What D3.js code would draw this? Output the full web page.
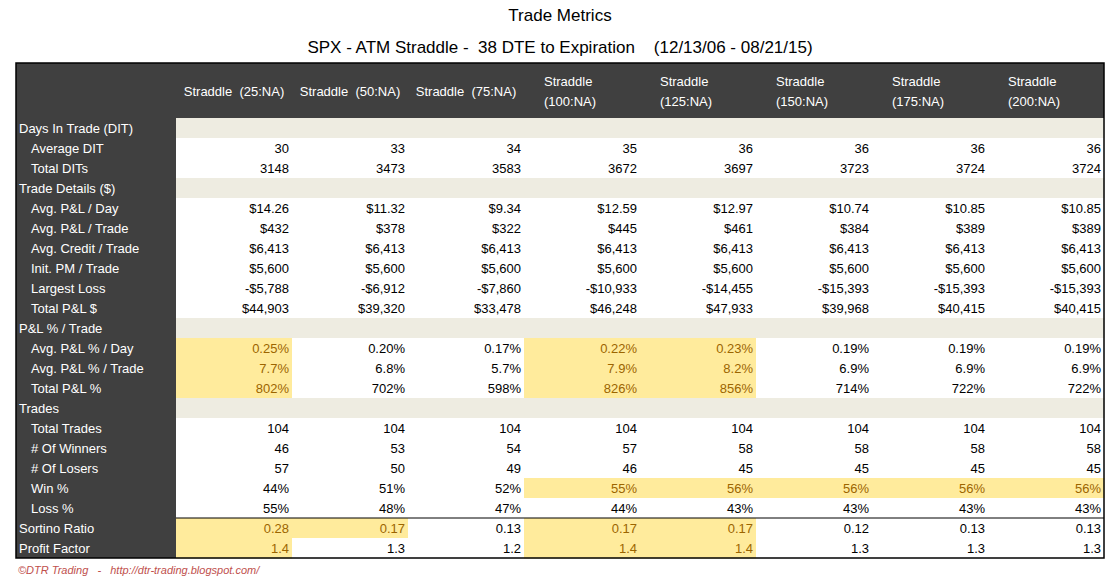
<!DOCTYPE html>
<html><head><meta charset="utf-8">
<script src="https://cdn.jsdelivr.net/npm/d3@7"></script>
<style>body{margin:0;background:#fff;font-family:"Liberation Sans",Arial,sans-serif}</style>
</head><body>
<div id="chart"></div>
<script>
// column headers (two lines when needed)
const columns = [["Straddle  (25:NA)"], ["Straddle  (50:NA)"], ["Straddle  (75:NA)"],
    ["Straddle", "(100:NA)"], ["Straddle", "(125:NA)"], ["Straddle", "(150:NA)"],
    ["Straddle", "(175:NA)"], ["Straddle", "(200:NA)"]];

// row labels; section rows have no values
const rowLabels = ["Days In Trade (DIT)", "Average DIT", "Total DITs", "Trade Details ($)",
    "Avg. P&L / Day", "Avg. P&L / Trade", "Avg.  Credit / Trade", "Init. PM / Trade",
    "Largest Loss", "Total P&L $", "P&L % / Trade", "Avg. P&L % / Day", "Avg. P&L % / Trade",
    "Total P&L %", "Trades", "Total Trades", "# Of Winners", "# Of Losers", "Win %", "Loss %",
    "Sortino Ratio", "Profit Factor"];
const sectionRows = ["Days In Trade (DIT)", "Trade Details ($)", "P&L % / Trade", "Trades"];
const topLevelRows = sectionRows.concat(["Sortino Ratio", "Profit Factor"]);

const values = {
    "Average DIT": ["30", "33", "34", "35", "36", "36", "36", "36"],
    "Total DITs": ["3148", "3473", "3583", "3672", "3697", "3723", "3724", "3724"],
    "Avg. P&L / Day": ["$14.26", "$11.32", "$9.34", "$12.59", "$12.97", "$10.74", "$10.85", "$10.85"],
    "Avg. P&L / Trade": ["$432", "$378", "$322", "$445", "$461", "$384", "$389", "$389"],
    "Avg.  Credit / Trade": ["$6,413", "$6,413", "$6,413", "$6,413", "$6,413", "$6,413", "$6,413", "$6,413"],
    "Init. PM / Trade": ["$5,600", "$5,600", "$5,600", "$5,600", "$5,600", "$5,600", "$5,600", "$5,600"],
    "Largest Loss": ["-$5,788", "-$6,912", "-$7,860", "-$10,933", "-$14,455", "-$15,393", "-$15,393", "-$15,393"],
    "Total P&L $": ["$44,903", "$39,320", "$33,478", "$46,248", "$47,933", "$39,968", "$40,415", "$40,415"],
    "Avg. P&L % / Day": ["0.25%", "0.20%", "0.17%", "0.22%", "0.23%", "0.19%", "0.19%", "0.19%"],
    "Avg. P&L % / Trade": ["7.7%", "6.8%", "5.7%", "7.9%", "8.2%", "6.9%", "6.9%", "6.9%"],
    "Total P&L %": ["802%", "702%", "598%", "826%", "856%", "714%", "722%", "722%"],
    "Total Trades": ["104", "104", "104", "104", "104", "104", "104", "104"],
    "# Of Winners": ["46", "53", "54", "57", "58", "58", "58", "58"],
    "# Of Losers": ["57", "50", "49", "46", "45", "45", "45", "45"],
    "Win %": ["44%", "51%", "52%", "55%", "56%", "56%", "56%", "56%"],
    "Loss %": ["55%", "48%", "47%", "44%", "43%", "43%", "43%", "43%"],
    "Sortino Ratio": ["0.28", "0.17", "0.13", "0.17", "0.17", "0.12", "0.13", "0.13"],
    "Profit Factor": ["1.4", "1.3", "1.2", "1.4", "1.4", "1.3", "1.3", "1.3"]
};

// highlighted (best) cells by column index
const highlights = {
    "Avg. P&L % / Day": [0, 3, 4], "Avg. P&L % / Trade": [0, 3, 4], "Total P&L %": [0, 3, 4],
    "Win %": [3, 4, 5, 6, 7], "Sortino Ratio": [0, 1, 3, 4], "Profit Factor": [0, 3, 4]
};

const svgWidth = 1120, svgHeight = 577;
const left = 16, labelW = 160, right = 1104, headTop = 63, headBottom = 118, rowH = 20;

const svg = d3.select("#chart").append("svg").attr("width", svgWidth).attr("height", svgHeight);

const x = d3.scaleBand().domain(d3.range(columns.length)).range([left + labelW, right]);
const y = d3.scaleBand().domain(rowLabels).range([headTop + (headBottom - headTop), headBottom + rowH * rowLabels.length]);

// titles
svg.append("text").attr("x", 560).attr("y", 21).attr("text-anchor", "middle")
    .attr("font-size", 17).text("Trade Metrics");
svg.append("text").attr("x", 560).attr("y", 53).attr("text-anchor", "middle")
    .attr("font-size", 17).attr("xml:space", "preserve")
    .text("SPX - ATM Straddle -  38 DTE to Expiration    (12/13/06 - 08/21/15)");

// dark header and label column
svg.append("rect").attr("x", left).attr("y", headTop).attr("width", right - left)
    .attr("height", headBottom - headTop).attr("fill", "#404040");
svg.append("rect").attr("x", left).attr("y", headTop).attr("width", labelW)
    .attr("height", y.range()[1] - headTop).attr("fill", "#404040");

// cell backgrounds
rowLabels.forEach(r => {
    columns.forEach((c, i) => {
        let fill = "#fff";
        if (sectionRows.includes(r)) fill = "#eeece1";
        if (highlights[r] && highlights[r].includes(i)) fill = "#ffeb9c";
        svg.append("rect").attr("x", x(i)).attr("y", y(r)).attr("width", x.bandwidth() + 0.5)
            .attr("height", y.bandwidth() + 0.5).attr("fill", fill);
    });
});

// header text
columns.forEach((c, i) => {
    const t = svg.append("text").attr("fill", "#fff").attr("font-size", 13).attr("xml:space", "preserve");
    if (c.length === 1) {
        t.attr("x", x(i) + x.bandwidth() / 2).attr("y", 96).attr("text-anchor", "middle").text(c[0]);
    } else {
        c.forEach((line, k) => t.append("tspan").attr("x", x(i) + 20).attr("y", 86 + k * 20).text(line));
    }
});

// row labels
svg.selectAll(".rowLabel").data(rowLabels).enter().append("text")
    .attr("x", d => left + (topLevelRows.includes(d) ? 3 : 15))
    .attr("y", d => y(d) + y.bandwidth() / 2 + 5)
    .attr("fill", "#fff").attr("font-size", 13).text(d => d);

// values
rowLabels.filter(r => values[r]).forEach(r => {
    values[r].forEach((v, i) => {
        const hi = highlights[r] && highlights[r].includes(i);
        svg.append("text").attr("x", x(i) + x.bandwidth() - 3).attr("y", y(r) + y.bandwidth() / 2 + 5)
            .attr("text-anchor", "end").attr("font-size", 13)
            .attr("fill", hi ? "#9c6500" : "#000").text(v);
    });
});

// borders
svg.append("line").attr("x1", left + labelW).attr("x2", right)
    .attr("y1", y("Sortino Ratio")).attr("y2", y("Sortino Ratio")).attr("stroke", "#000");
svg.append("rect").attr("x", left).attr("y", headTop).attr("width", right - left)
    .attr("height", y.range()[1] - headTop).attr("fill", "none").attr("stroke", "#000").attr("stroke-width", 1.5);

// footer
svg.append("text").attr("x", 18).attr("y", 574).attr("font-size", 11).attr("font-style", "italic")
    .attr("fill", "#c0504d").attr("xml:space", "preserve")
    .text("©DTR Trading   -   http://dtr-trading.blogspot.com/");
</script>
</body></html>
